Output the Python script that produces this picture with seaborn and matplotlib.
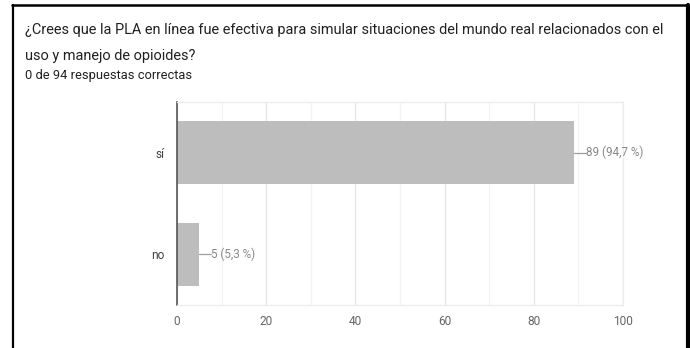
import matplotlib
matplotlib.use("Agg")
import matplotlib.pyplot as plt
import seaborn as sns
import pandas as pd
from matplotlib.lines import Line2D

categories = ["sí", "no"]
counts = [89, 5]
labels = ["89 (94,7 %)", "5 (5,3 %)"]
xticks = [0, 20, 40, 60, 80, 100]
title_lines = ["¿Crees que la PLA en línea fue efectiva para simular situaciones del mundo real relacionados con el",
               "uso y manejo de opioides?"]
subtitle = "0 de 94 respuestas correctas"

sns.set_style("white")
plt.rcParams['font.family'] = ['Roboto', 'DejaVu Sans']

W, H = 690, 348
fig = plt.figure(figsize=(W / 100, H / 100), dpi=100)
ax = fig.add_axes([177 / W, 1 - 305 / H, (623 - 177) / W, (305 - 102) / H])

df = pd.DataFrame({"cat": categories, "count": counts})
sns.barplot(data=df, x="count", y="cat", orient="h", color="#bdbdbd",
            saturation=1, width=0.62, ax=ax, edgecolor="none")

for i, (v, lab) in enumerate(zip(counts, labels)):
    ax.plot([v, v + 2.6], [i, i], color="#9e9e9e", lw=0.9, clip_on=False)
    ax.text(v + 2.7, i, lab, va="center", ha="left", fontsize=8.4, color="#888888")

ax.set_ylim(len(categories) - 0.5, -0.5)
ax.set_xlim(0, 100)
ax.set_xticks(xticks)
ax.set_xticks([10, 30, 50, 70, 90], minor=True)
ax.grid(True, axis="x", which="major", color="#e6e6e6", lw=0.9)
ax.grid(True, axis="x", which="minor", color="#f3f3f3", lw=0.9)
ax.grid(False, axis="y")
ax.set_axisbelow(True)
ax.set_xlabel("")
ax.set_ylabel("")
for s in ["top", "right", "bottom"]:
    ax.spines[s].set_color("#ececec")
    ax.spines[s].set_linewidth(0.9)
ax.spines["left"].set_color("#555555")
ax.spines["left"].set_linewidth(1.2)
ax.tick_params(axis="x", which="both", length=0, colors="#666666", labelsize=8.6, pad=7)
ax.tick_params(axis="y", length=0, colors="#444444", labelsize=8.6, pad=9)

fig.text(25 / W, 1 - 30 / H, title_lines[0], fontsize=10.45, color="#202124", va="center", ha="left")
fig.text(25 / W, 1 - 56 / H, title_lines[1], fontsize=10.45, color="#202124", va="center", ha="left")
fig.text(25 / W, 1 - 76 / H, subtitle, fontsize=9.3, color="#202124", va="center", ha="left")

# frame border
fig.add_artist(Line2D([12.5 / W, 12.5 / W], [0, 1 - 5 / H], transform=fig.transFigure, color="black", lw=1.6))
fig.add_artist(Line2D([12 / W, 688 / W], [1 - 5 / H, 1 - 5 / H], transform=fig.transFigure, color="black", lw=1.8))
fig.add_artist(Line2D([688 / W, 688 / W], [0, 1 - 5 / H], transform=fig.transFigure, color="black", lw=3))

fig.savefig("out.png", dpi=100)
